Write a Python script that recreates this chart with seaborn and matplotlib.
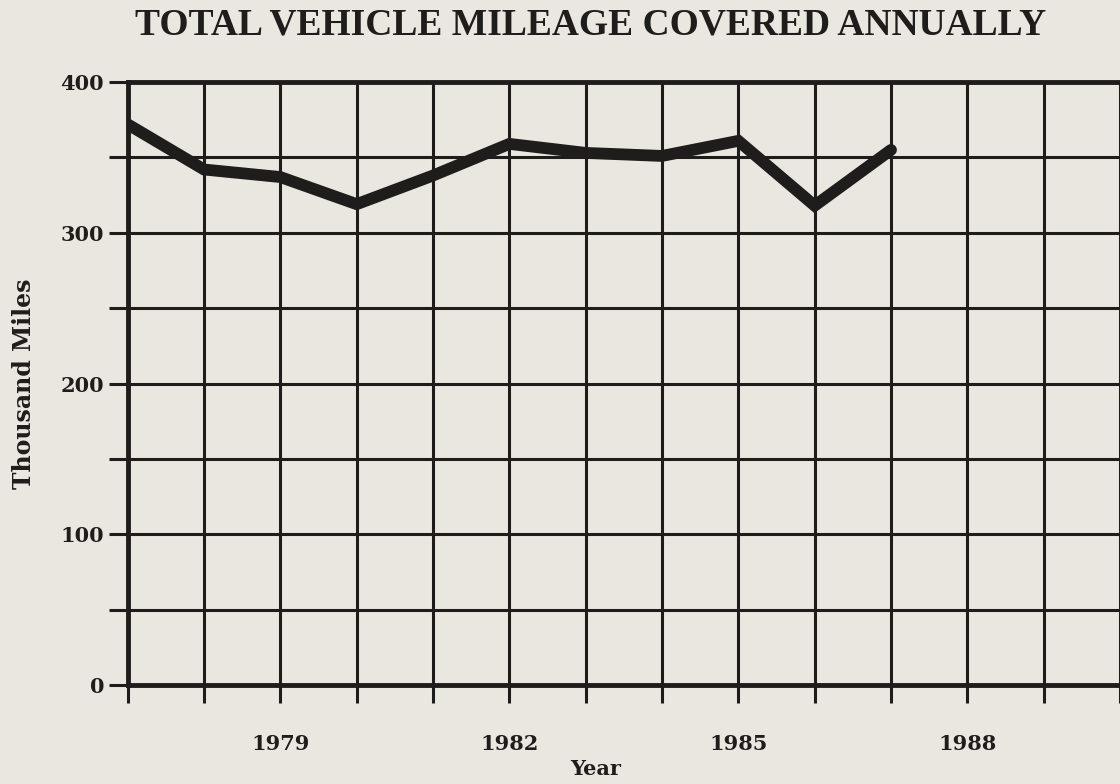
import pandas as pd
import seaborn as sns
import matplotlib.pyplot as plt

# values (thousand miles)
years = [1977, 1978, 1979, 1980, 1981, 1982, 1983, 1984, 1985, 1986, 1987]
mileage = [372, 342, 337, 319, 338, 359, 353, 351, 361, 318, 355]

year_ticks = list(range(1977, 1991))
year_labels = ["1979", "1982", "1985", "1988"]
mile_ticks = list(range(0, 401, 50))
mile_labels = ["0", "100", "200", "300", "400"]

PAPER = "#e9e7e0"
INK = "#1e1d1b"


def main():
    sns.set_theme(style="ticks")
    plt.rcParams["font.family"] = ["DejaVu Serif"]
    plt.rcParams["font.weight"] = "bold"

    df = pd.DataFrame({"year": years, "mileage": mileage})

    fig = plt.figure(figsize=(11.2, 7.84), dpi=100, facecolor=PAPER)
    ax = fig.add_axes([0.114, 0.1263, 0.886, 0.769], facecolor=PAPER)

    sns.lineplot(data=df, x="year", y="mileage", ax=ax, color=INK,
                 linewidth=8.5, solid_joinstyle="miter", zorder=5)

    ax.set_xlim(1977, 1990)
    ax.set_ylim(0, 400)

    ax.set_xticks(year_ticks)
    ax.set_xticklabels([str(y) if str(y) in year_labels else "" for y in year_ticks])
    ax.set_yticks(mile_ticks)
    ax.set_yticklabels([str(v) if str(v) in mile_labels else "" for v in mile_ticks])

    ax.grid(True, color=INK, linewidth=2.2)
    ax.tick_params(axis="x", length=13, width=2.2, color=INK, pad=22,
                   labelsize=15, labelcolor=INK)
    ax.tick_params(axis="y", length=14, width=2.2, color=INK, pad=3,
                   labelsize=15, labelcolor=INK)
    for lab in ax.get_xticklabels() + ax.get_yticklabels():
        lab.set_fontweight("bold")

    for side in ["left", "top", "bottom"]:
        ax.spines[side].set_visible(True)
        ax.spines[side].set_color(INK)
        ax.spines[side].set_linewidth(3.5)
    ax.spines["right"].set_visible(False)

    ax.set_xlabel("Year", fontsize=15, fontweight="bold", color=INK)
    ax.xaxis.set_label_coords(0.472, -0.122)
    ax.set_ylabel("Thousand Miles", fontsize=17, fontweight="bold", color=INK)
    ax.yaxis.set_label_coords(-0.092, 0.5)

    fig.text(0.527, 0.99, "TOTAL VEHICLE MILEAGE COVERED ANNUALLY",
             ha="center", va="top", fontsize=27, fontweight="bold", color=INK,
             family="Liberation Serif")

    fig.savefig("out.png", dpi=100, facecolor=PAPER)


if __name__ == "__main__":
    main()
